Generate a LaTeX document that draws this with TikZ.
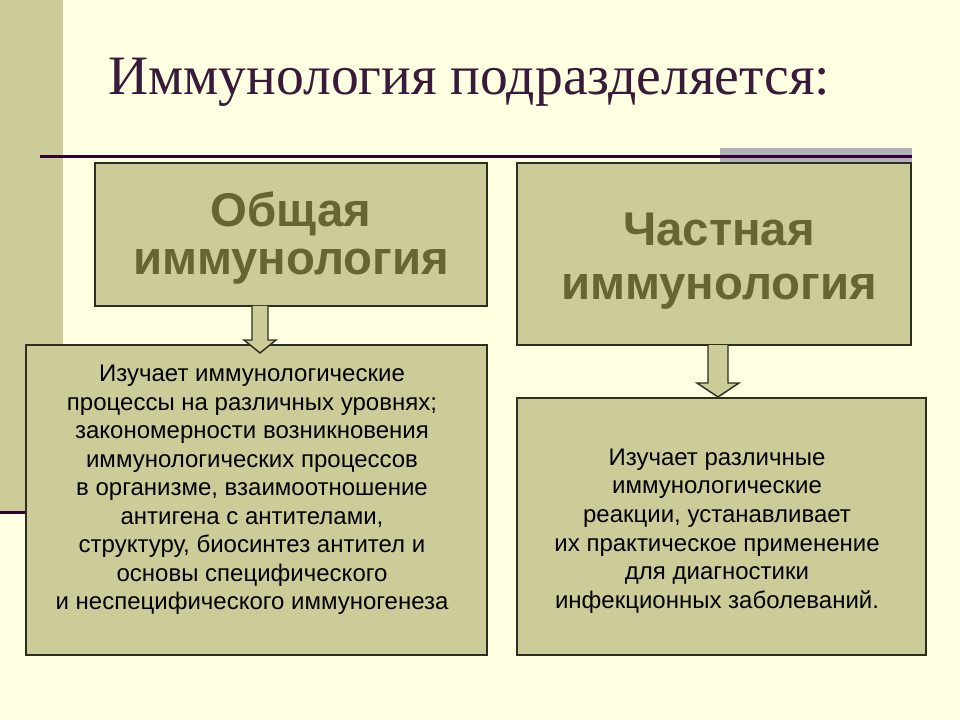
\documentclass[tikz,border=0pt]{standalone}
\usepackage{fontspec}
\setmainfont{Liberation Sans}
\newfontfamily\titlefont{Liberation Serif}
\definecolor{bgcol}{HTML}{FFFFE1}
\definecolor{olive}{HTML}{CCCC99}
\definecolor{darkline}{HTML}{330033}
\definecolor{graybar}{HTML}{B0B0B6}
\definecolor{titlecol}{HTML}{3A1A3A}
\definecolor{headcol}{HTML}{666633}
\definecolor{edgecol}{HTML}{2E2E22}
\tikzset{
  boxsty/.style={draw=edgecol, fill=olive, line width=1.1pt, inner sep=0pt, outer sep=0pt},
  headsty/.style={text=headcol, align=center, inner sep=0pt, font=\bfseries\fontsize{35.5}{36}\selectfont},
  bodysty/.style={text=black, align=center, inner sep=0pt, font=\fontsize{18}{21.4}\selectfont},
  blockarrow/.style={draw=edgecol, fill=olive, line width=1.1pt, line join=miter}
}
\begin{document}
\begin{tikzpicture}[x=0.75pt,y=-0.75pt]
\useasboundingbox (0,0) rectangle (960,720);
\fill[bgcol] (0,0) rectangle (960,720);
% left band
\fill[olive] (0,0) rectangle (63,512);
\draw[darkline, line width=2.25pt] (0,512) -- (63,512);
% gray bar and rule
\fill[graybar] (720,148) rectangle (912,163);
\draw[darkline, line width=2.25pt] (40,157) -- (912,157);
% title
\node[anchor=base west, inner sep=0pt, text=titlecol, font=\titlefont\fontsize{41.7}{48}\selectfont] (title) at (108,95) {Иммунология подразделяется:};
% boxes
\node[boxsty, minimum width=294pt, minimum height=107.25pt] (b1) at (291,234.5) {};
\node[boxsty, minimum width=295.5pt, minimum height=136.5pt] (b2) at (714,254) {};
\node[boxsty, minimum width=345.75pt, minimum height=232.5pt] (b3) at (256.5,500) {};
\node[boxsty, minimum width=306.75pt, minimum height=192.75pt] (b4) at (721.5,526.5) {};
% block arrows
\draw[blockarrow] (252,306) -- (252,340) -- (244,340) -- (260,353) -- (276,340) -- (268,340) -- (268,306);
\draw[blockarrow] (708,345) -- (708,383) -- (697,383) -- (718,397) -- (739,383) -- (728,383) -- (728,345);
% texts
\node[headsty] (h1) at (291,238) {Общая\\иммунология};
\node[headsty, font=\bfseries\fontsize{35.5}{40}\selectfont] (h2) at (719,261) {Частная\\иммунология};
\node[bodysty] (t3) at (252,490) {Изучает иммунологические\\процессы на различных уровнях;\\закономерности возникновения\\иммунологических процессов\\в организме, взаимоотношение\\антигена с антителами,\\структуру, биосинтез антител и\\основы специфического\\и неспецифического иммуногенеза};
\node[bodysty] (t4) at (717,531) {Изучает различные\\иммунологические\\реакции, устанавливает\\их практическое применение\\для диагностики\\инфекционных заболеваний.};
\end{tikzpicture}
\end{document}
